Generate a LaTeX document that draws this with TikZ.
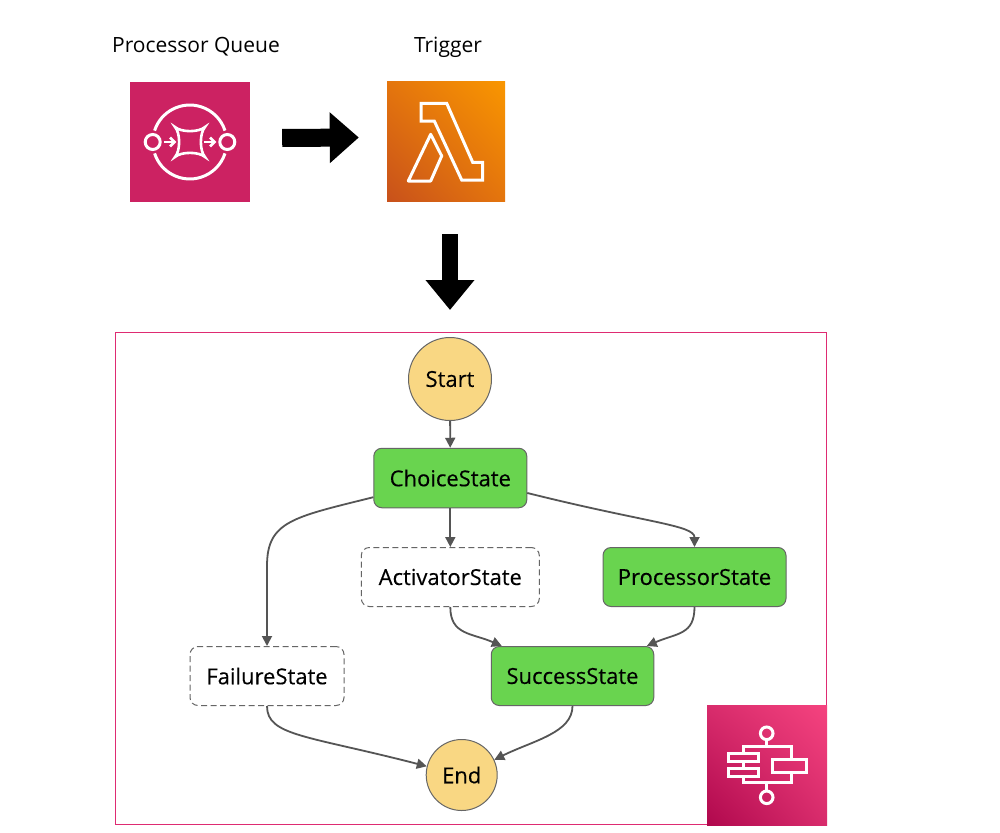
\documentclass[tikz,border=0pt]{standalone}
\usepackage{fontspec}
\setmainfont{Open Sans}
\usetikzlibrary{arrows.meta,shadings}
\definecolor{edgegray}{HTML}{555555}
\definecolor{stategreen}{HTML}{69D44F}
\definecolor{startyellow}{HTML}{F9D783}
\definecolor{framepink}{HTML}{DE2B72}
\definecolor{sqspink}{HTML}{CC2262}
\definecolor{lamA}{HTML}{C8511B}
\definecolor{lamB}{HTML}{F99600}
\definecolor{lamM}{HTML}{E4750D}
\definecolor{sfnA}{HTML}{B0084D}
\definecolor{sfnB}{HTML}{F5437F}
\definecolor{sfnM}{HTML}{D82C6C}
\tikzset{
  x=1pt,y=-1pt,
  statefont/.style={font=\fontsize{22}{26}\selectfont\addfontfeature{FakeBold=0.25}},
  statebox/.style={rectangle,rounded corners=8pt,draw=edgegray!90,line width=1pt,inner sep=0pt,text=black,statefont},
  greenstate/.style={statebox,fill=stategreen},
  dashstate/.style={statebox,fill=white,dash pattern=on 6pt off 3.5pt},
  terminal/.style={circle,draw=edgegray!90,line width=1pt,fill=startyellow,inner sep=0pt,statefont},
  flow/.style={draw=edgegray,line width=1.8pt,-{Triangle[length=10pt,width=10pt]}},
  blockh/.style={draw=black,line width=18pt,-{Triangle[length=29pt,width=49pt]}},
  blockv/.style={draw=black,line width=16pt,-{Triangle[length=30pt,width=47pt]}},
  caption/.style={inner sep=0pt,font=\fontsize{21}{25}\selectfont},
  iconbox/.style={rectangle,inner sep=0pt,minimum height=120pt},
  glyph/.style={draw=white,line width=3pt,fill=none},
}
\begin{document}
\begin{tikzpicture}
\useasboundingbox (0,0) rectangle (1000,832);
\fill[white] (0,0) rectangle (1000,832);
% frame
\node[draw=framepink,line width=1pt,rectangle,inner sep=0pt,minimum width=711pt,minimum height=492pt] (frame) at (471,578.5) {};
% captions
\node[caption] (lq) at (196,47) {Processor Queue};
\node[caption] (lt) at (448,47) {Trigger};
% SQS icon
\node[iconbox,minimum width=120pt,fill=sqspink] (sqs) at (190,142) {};
\draw[glyph] (152.7,142) circle (7.5);
\draw[glyph] (227.3,142) circle (7.5);
\draw[glyph] (154.6,130.6) arc[start angle=198,end angle=342,radius=37];
\draw[glyph] (154.6,153.4) arc[start angle=162,end angle=18,radius=37];
\draw[glyph,line width=2.6pt] (175,127) .. controls (181,132.5) and (199,132.5) .. (205,127)
  .. controls (199.5,133) and (199.5,151) .. (205,157)
  .. controls (199,151.5) and (181,151.5) .. (175,157)
  .. controls (180.5,151) and (180.5,133) .. (175,127) -- cycle;
\draw[glyph,line width=2.6pt] (164,142) -- (174,142);
\draw[glyph,line width=2.6pt] (170,137.5) -- (174.5,142) -- (170,146.5);
\draw[glyph,line width=2.6pt] (204,142) -- (214,142);
\draw[glyph,line width=2.6pt] (210,137.5) -- (214.5,142) -- (210,146.5);
% Lambda icon
\node[iconbox,minimum width=118pt,minimum height=119pt,lower left=lamA,upper right=lamB,upper left=lamM,lower right=lamM] (lam) at (446,141.5) {};
\draw[glyph,line join=miter] (421,103.3) -- (446.7,103.3) -- (472.7,162.3) -- (482.7,162.3) -- (482.7,180) -- (461.7,180) -- (434.3,121) -- (421,121) -- cycle;
\draw[glyph,line join=round] (430.7,134.3) -- (441.7,156) -- (430.7,181) -- (408.3,181) -- cycle;
% Step Functions icon
\node[iconbox,minimum width=120pt,lower left=sfnA,upper right=sfnB,upper left=sfnM,lower right=sfnM] (sfn) at (767,765) {};
\draw[glyph] (766.7,733.3) circle (6.3);
\draw[glyph] (766.7,797.3) circle (6.3);
\draw[glyph] (766.7,739.6) -- (766.7,746.7);
\draw[glyph] (766.7,782.7) -- (766.7,791);
\draw[glyph] (743.3,753.3) -- (743.3,746.7) -- (791.7,746.7) -- (791.7,759.3);
\draw[glyph] (743.3,776.7) -- (743.3,782.7) -- (791.7,782.7) -- (791.7,772);
\draw[glyph] (743.3,761.7) -- (743.3,768.3);
\draw[glyph] (728.3,753.3) rectangle (758.3,761.7);
\draw[glyph] (728.3,768.3) rectangle (758.3,776.7);
\draw[glyph] (772.7,759.3) rectangle (806.7,772);
% states
\node[terminal,minimum size=83pt] (start) at (450,379) {Start};
\node[greenstate,minimum width=153pt,minimum height=59.5pt] (choice) at (450.3,478) {ChoiceState};
\node[dashstate,minimum width=178pt,minimum height=59pt] (activator) at (450.3,577) {ActivatorState};
\node[greenstate,minimum width=183pt,minimum height=59pt] (processor) at (694.5,577) {ProcessorState};
\node[greenstate,minimum width=162.5pt,minimum height=59pt] (success) at (572.5,676) {SuccessState};
\node[dashstate,minimum width=154pt,minimum height=59pt] (failure) at (267,676) {FailureState};
\node[terminal,minimum size=71pt] (end) at (461.7,775) {End};
% block arrows
\draw[blockh] ([shift={(32,-4)}]sqs.east) -- ([shift={(-28,-4)}]lam.west);
\draw[blockv] ([shift={(4,33)}]lam.south) -- ([shift={(0,-27)}]start.north);
% state edges
\draw[flow] (start) -- (choice);
\draw[flow] (choice) -- (activator);
\draw[flow] (choice.194.6) .. controls +(-80,20) and +(0,-45) .. ([shift={(0,-80)}]failure.north) -- (failure.north);
\draw[flow] (choice.-11) .. controls +(120,30) and +(0,-22) .. (processor.north);
\draw[flow] (activator.south) .. controls +(0,28) and +(-30,-13) .. (success.157.9);
\draw[flow] (processor.south) .. controls +(0,28) and +(30,-13) .. (success.22.1);
\draw[flow] (failure.south) .. controls +(0,30) and +(-120,-31) .. (end.166);
\draw[flow] (success.south) .. controls +(0,27) and +(38,-19) .. (end.25.4);
\end{tikzpicture}
\end{document}
